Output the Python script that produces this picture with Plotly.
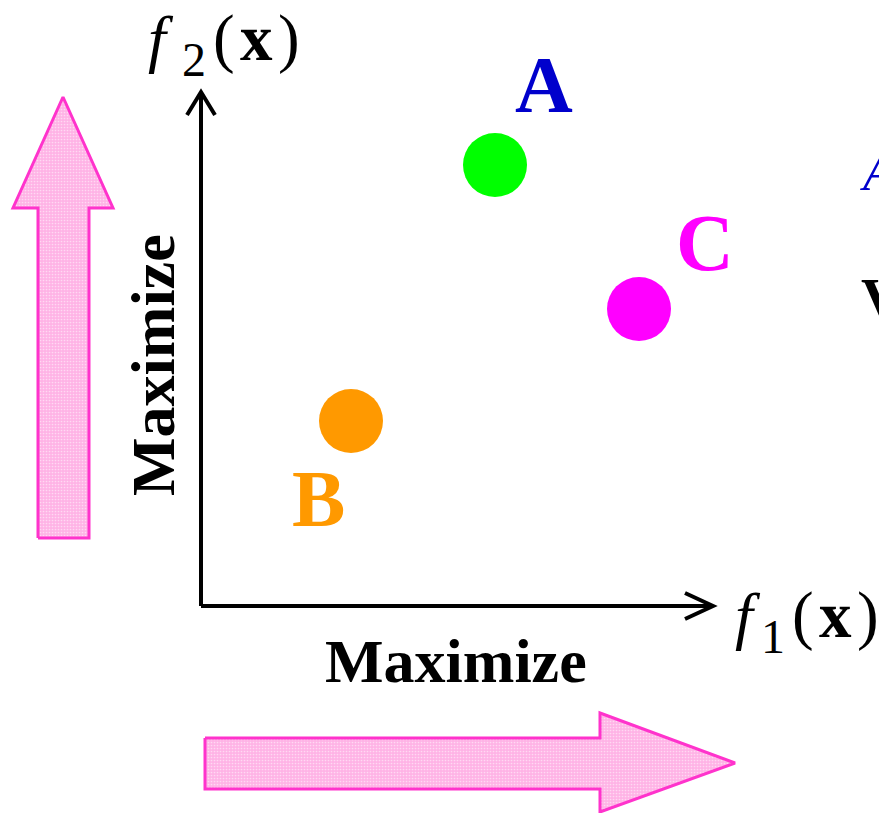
import plotly.graph_objects as go

# ---- data (objective values of the three solutions) ----
labels = ["A", "B", "C"]
f1_values = [5.88, 3.00, 8.76]
f2_values = [8.82, 3.70, 5.94]
point_colors = ["#00FF00", "#FF9900", "#FF00FF"]
label_colors = ["#0000CC", "#FF9900", "#FF00FF"]
label_shifts = [(49, 80), (-33, -78), (66, 66)]  # pixel offsets of letters

axis_symbol = "f"
axis_subscripts = ["1", "2"]
axis_argument = "(\u200a<b>x</b>\u200a)"
direction_text = "Maximize"

W, H = 879, 813
X0, Y0, S = 201, 606, 50.0  # origin pixel and pixels per unit


def dx(px):
    return (px - X0) / S


def dy(py):
    return (Y0 - py) / S


SERIF = "Liberation Serif, Times New Roman, serif"

fig = go.Figure()

# pink block arrows (decoration)
pink_fill = "#FFB3E6"
pink_line = "#FF33CC"
v_arrow = [(38, 538), (38, 208), (13, 208), (63, 97), (113, 208), (89, 208), (89, 538)]
h_arrow = [(205, 738), (600, 738), (600, 713), (735, 763), (600, 812), (600, 789), (205, 789)]
for poly in (v_arrow, h_arrow):
    xs = [dx(p[0]) for p in poly] + [dx(poly[0][0])]
    ys = [dy(p[1]) for p in poly] + [dy(poly[0][1])]
    fig.add_trace(go.Scatter(
        x=xs, y=ys, mode="lines", fill="toself",
        fillcolor=pink_fill,
        fillpattern=dict(shape=".", fgcolor="#FFFFFF", bgcolor=pink_fill, size=3, solidity=0.25),
        line=dict(color=pink_line, width=3), hoverinfo="skip", showlegend=False))

# axes with open arrowheads
ax_end_x = dx(713)
ax_end_y = dy(92)
fig.add_shape(type="line", x0=0, y0=0, x1=ax_end_x, y1=0, line=dict(color="black", width=4))
fig.add_shape(type="line", x0=0, y0=0, x1=0, y1=ax_end_y, line=dict(color="black", width=4))
fig.add_shape(type="path",
              path=f"M {dx(685)} {dy(593)} L {ax_end_x} 0 L {dx(685)} {dy(619)}",
              line=dict(color="black", width=4))
fig.add_shape(type="path",
              path=f"M {dx(187)} {dy(115)} L 0 {ax_end_y} L {dx(215)} {dy(115)}",
              line=dict(color="black", width=4))

# solution points
fig.add_trace(go.Scatter(
    x=f1_values, y=f2_values, mode="markers",
    marker=dict(size=64, color=point_colors, line=dict(width=0)),
    hoverinfo="skip", showlegend=False))

for lab, x, y, c, (sx, sy) in zip(labels, f1_values, f2_values, label_colors, label_shifts):
    fig.add_annotation(x=x, y=y, text=f"<b>{lab}</b>", showarrow=False,
                       xshift=sx, yshift=sy,
                       font=dict(family=SERIF, size=80, color=c))

# axis titles  f_1(x) and f_2(x)
title_pos = [  # (f centre x, sub centre x, arg centre x, main centre y, sub centre y)
    (748, 773, 835, 615, 636),
    (161, 194, 256, 38, 59),
]
for sub, (fx, sx, ax, my, sy) in zip(axis_subscripts, title_pos):
    fig.add_annotation(x=dx(fx), y=dy(my), text=f"<i>{axis_symbol}</i>", showarrow=False,
                       font=dict(family=SERIF, size=64, color="black"))
    fig.add_annotation(x=dx(sx), y=dy(sy), text=sub, showarrow=False,
                       font=dict(family=SERIF, size=48, color="black"))
    fig.add_annotation(x=dx(ax), y=dy(my), text=axis_argument, showarrow=False,
                       font=dict(family=SERIF, size=65, color="black"))

# "Maximize" labels
fig.add_annotation(x=dx(456), y=dy(661), text=f"<b>{direction_text}</b>", showarrow=False,
                   font=dict(family=SERIF, size=62, color="black"))
fig.add_annotation(x=dx(153), y=dy(365), text=f"<b>{direction_text}</b>", showarrow=False,
                   textangle=-90,
                   font=dict(family=SERIF, size=62, color="black"))

# clipped text fragments at the right edge (as in the reference)
fig.add_annotation(x=dx(858), y=dy(172), text="<i>A</i>", showarrow=False, xanchor="left",
                   font=dict(family=SERIF, size=54, color="#0000CC"))
fig.add_annotation(x=dx(859), y=dy(298), text="<b>V</b>", showarrow=False, xanchor="left",
                   font=dict(family=SERIF, size=58, color="black"))

fig.update_layout(
    width=W, height=H,
    margin=dict(l=0, r=0, t=0, b=0),
    paper_bgcolor="white", plot_bgcolor="white",
    xaxis=dict(range=[dx(0), dx(W)], visible=False, fixedrange=True),
    yaxis=dict(range=[dy(H), dy(0)], visible=False, fixedrange=True),
    showlegend=False,
)

fig.write_html("out.html",
               config={"displayModeBar": False},
               post_script="document.body.style.margin='0';document.body.style.overflow='hidden';")
